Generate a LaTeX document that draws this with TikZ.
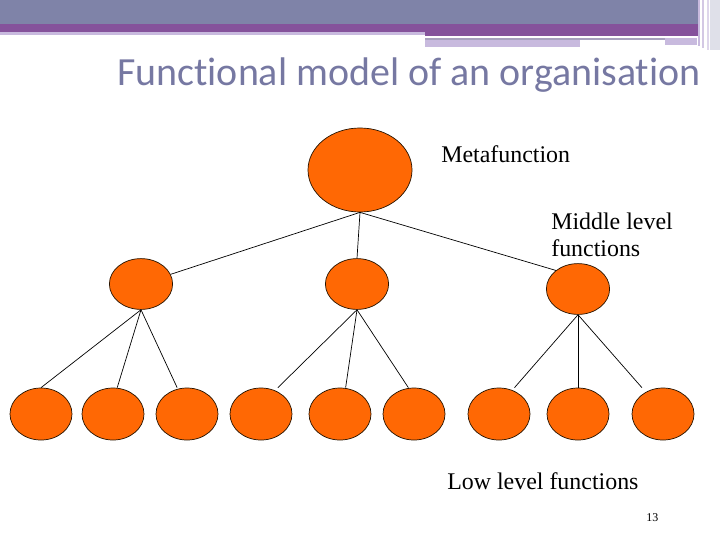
\documentclass[tikz,border=0pt]{standalone}
\usepackage{fontspec}
\setmainfont{Liberation Serif}
\newfontfamily\titlefont[Ligatures=NoCommon]{Carlito}
\usetikzlibrary{shapes.geometric}

\definecolor{barblue}{RGB}{127,131,168}
\definecolor{barpurple}{RGB}{133,82,155}
\definecolor{barlight}{RGB}{200,186,222}
\definecolor{bargrey}{RGB}{168,160,190}
\definecolor{titlecol}{RGB}{118,120,162}
\definecolor{funcorange}{RGB}{255,104,4}

\tikzset{
	func/.style={ellipse,fill=funcorange,draw=black!85!orange,line width=.5pt,inner sep=0pt},
	bigfunc/.style={func,minimum width=2.6cm,minimum height=2.1cm},
	midfunc/.style={func,minimum width=1.58cm,minimum height=1.27cm},
	lowfunc/.style={func,minimum width=1.55cm,minimum height=1.3cm},
	link/.style={draw=black,line width=.5pt},
	lbl/.style={font=\fontsize{17}{19.2}\selectfont,inner sep=0pt,align=left}
}

\begin{document}
\begin{tikzpicture}[x=0.025cm,y=-0.025cm]
		\useasboundingbox (0,0) rectangle (720,540);

		% header bar
		\fill[barblue] (0,0) rectangle (700,24);
		\fill[barpurple] (0,24) rectangle (700,32);
		\fill[barlight] (0,32) rectangle (425,35);
		\fill[barpurple] (425,32) rectangle (700,36);
		\fill[bargrey] (425,38) rectangle (665,40);
		\fill[barlight] (425,40) rectangle (580,47);
		\fill[barlight] (665,38) rectangle (697,45);
		\fill[barlight] (698,0) rectangle (700,46);
		\fill[barlight!80] (702,0) rectangle (704,48);
		\fill[barlight!60] (707,0) rectangle (709,50);
		\fill[barblue!25] (710,0) rectangle (720,50);

		% title
		\node[anchor=base west,inner sep=0pt,text=titlecol,font=\titlefont\fontsize{28.4}{32}\selectfont] (title) at (117,85) {Functional model of an organisation};

		% metafunction
		\node[bigfunc] (meta) at (360,170) {};

		% middle level functions
		\node[midfunc] (midA) at (141,284) {};
		\node[midfunc] (midB) at (357,284) {};
		\node[midfunc] (midC) at (578,289) {};

		% low level functions
		\node[lowfunc] (lowA) at (41,414) {};
		\node[lowfunc] (lowB) at (113,414) {};
		\node[lowfunc] (lowC) at (187,414) {};
		\node[lowfunc] (lowD) at (261,414) {};
		\node[lowfunc] (lowE) at (340,414) {};
		\node[lowfunc] (lowF) at (414,414) {};
		\node[lowfunc] (lowG) at (499,414) {};
		\node[lowfunc] (lowH) at (578,414) {};
		\node[lowfunc] (lowI) at (663,414) {};

		% metafunction -> middle level
		\draw[link] (meta.south) -- (midA);
		\draw[link] (meta.south) -- (midB.north);
		\draw[link] (meta.south) -- (midC.140);

		% middle level -> low level
		\draw[link] (midA.south) -- (lowA.north);
		\draw[link] (midA.south) -- ([xshift=3]lowB.north);
		\draw[link] (midA.south) -- ([xshift=-7]lowC.north);
		\draw[link] (midB.south) -- ([xshift=12]lowD.north);
		\draw[link] (midB.south) -- ([xshift=4]lowE.north);
		\draw[link] (midB.south) -- ([xshift=-4]lowF.north);
		\draw[link] (midC.south) -- ([xshift=11]lowG.north);
		\draw[link] (midC.south) -- (lowH.north);
		\draw[link] (midC.south) -- ([xshift=-15]lowI.north);

		% labels
		\node[lbl,anchor=base west] (metalbl) at (441,162) {Metafunction};
		\node[lbl,anchor=base west] (midlbl) at (551,256) {Middle level\\functions};
		\node[lbl,anchor=base west] (lowlbl) at (447,489) {Low level functions};
		\node[anchor=base west,inner sep=0pt,font=\fontsize{8.5}{10}\selectfont] (pagenum) at (646,521) {13};
	\end{tikzpicture}
\end{document}
